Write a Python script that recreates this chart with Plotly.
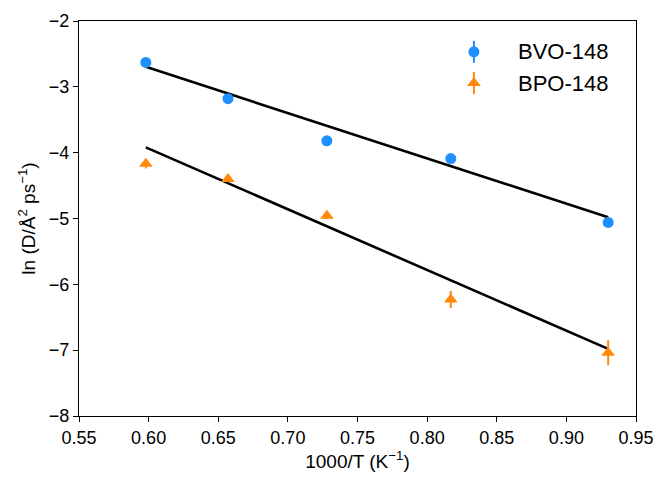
import numpy as np
import plotly.graph_objects as go

# Inverse temperature (1000/T, K^-1)
inv_t = [0.598, 0.657, 0.728, 0.817, 0.930]

# ln(D / Å^2 ps^-1) with uncertainties
bvo_lnD = [-2.63, -3.18, -3.82, -4.09, -5.06]
bvo_err = [0.03, 0.03, 0.06, 0.04, 0.03]
bpo_lnD = [-4.17, -4.40, -4.96, -6.23, -7.04]
bpo_err = [0.07, 0.04, 0.05, 0.13, 0.19]

# Arrhenius fit parameters: ln D = slope * (1000/T) + intercept
bvo_fit = {"slope": -6.88, "intercept": 1.418}
bpo_fit = {"slope": -9.22, "intercept": 1.594}

series_names = ["BVO-148", "BPO-148"]

x_ticks = [0.55, 0.60, 0.65, 0.70, 0.75, 0.80, 0.85, 0.90, 0.95]
y_ticks = [-8, -7, -6, -5, -4, -3, -2]

BLUE = "#1E8FFF"
ORANGE = "#FF8A0A"
FONT = "Liberation Sans, Arial"

fig = go.Figure()

x_fit = np.array([min(inv_t), max(inv_t)])
for fit in (bvo_fit, bpo_fit):
    fig.add_trace(go.Scatter(
        x=x_fit, y=fit["slope"] * x_fit + fit["intercept"],
        mode="lines", line=dict(color="black", width=2.6),
        showlegend=False, hoverinfo="skip"))

styles = [("circle", 11, BLUE), ("triangle-up", 12, ORANGE)]
for name, ys, errs, (sym, size, col) in zip(
        series_names, (bvo_lnD, bpo_lnD), (bvo_err, bpo_err), styles):
    fig.add_trace(go.Scatter(
        x=inv_t, y=ys, mode="markers", name=name, showlegend=False,
        marker=dict(symbol=sym, size=size, color=col),
        error_y=dict(type="data", array=errs, color=col, thickness=2, width=0)))

# Legend keys (marker with an error-bar stroke) on an overlay axis in
# plot-fraction units, with the labels as annotations beside them.
key_x = 0.709
key_y = [0.922, 0.843]
label_x = 0.784
for name, ky, (sym, size, col) in zip(series_names, key_y, styles):
    fig.add_trace(go.Scatter(
        x=[key_x], y=[ky], mode="markers", xaxis="x2", yaxis="y2",
        showlegend=False, hoverinfo="skip",
        marker=dict(symbol=sym, size=size, color=col),
        error_y=dict(type="constant", value=0.028, color=col, thickness=2, width=0)))
    fig.add_annotation(
        x=label_x, y=ky, xref="x2", yref="y2", text=name, showarrow=False,
        xanchor="left", yanchor="middle",
        font=dict(family=FONT, size=22, color="black"))

axis_common = dict(
    showgrid=False, zeroline=False, showline=True, linecolor="black",
    linewidth=1.2, mirror=True, ticks="outside", ticklen=5, tickwidth=1.2,
    tickcolor="black", automargin=False,
    tickfont=dict(family=FONT, size=18, color="black"))

xaxis = dict(
    range=[0.55, 0.95], tickvals=x_ticks,
    ticktext=[f"{v:.2f}" for v in x_ticks],
    title=dict(text="1000/T (K<sup>\u22121</sup>)",
               font=dict(family=FONT, size=19, color="black"),
               standoff=5),
    **axis_common)

yaxis = dict(
    range=[-8, -2], tickvals=y_ticks,
    ticktext=[f"\u2212{abs(v)}" for v in y_ticks],
    title=dict(text="ln (D/Å<sup>2</sup> ps<sup>\u22121</sup>)",
               font=dict(family=FONT, size=19, color="black"),
               standoff=8),
    **axis_common)

fig.update_layout(
    width=654, height=477,
    margin=dict(l=79, r=18, t=21, b=61),
    paper_bgcolor="white", plot_bgcolor="white",
    xaxis=xaxis, yaxis=yaxis,
    xaxis2=dict(range=[0, 1], overlaying="x", visible=False, fixedrange=True),
    yaxis2=dict(range=[0, 1], overlaying="y", visible=False, fixedrange=True),
    showlegend=False)

fig.write_html("out.html")
